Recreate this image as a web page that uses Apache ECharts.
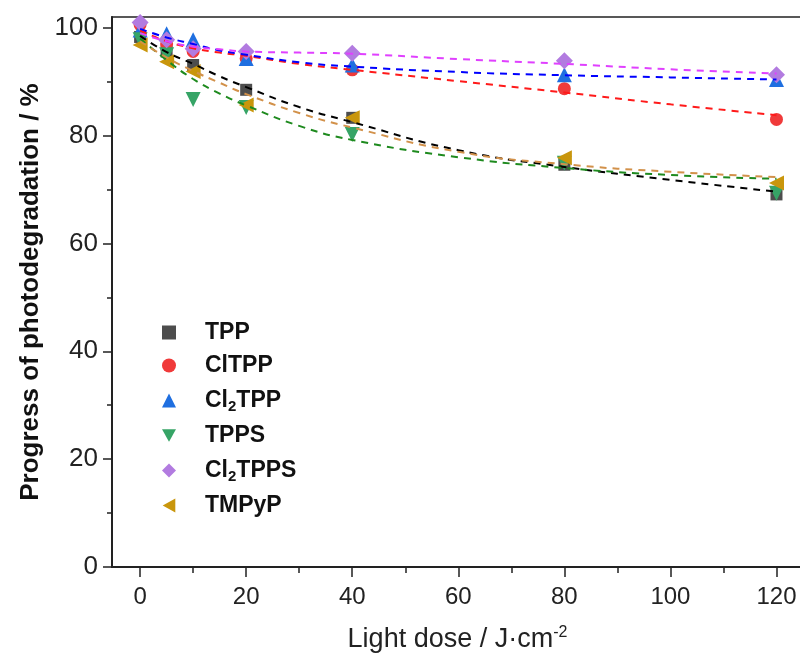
<!DOCTYPE html>
<html>
<head>
<meta charset="utf-8">
<script src="https://cdn.jsdelivr.net/npm/echarts@6/dist/echarts.min.js"></script>
<style>html,body{margin:0;padding:0;background:#fff}#c{width:800px;height:656px}</style>
</head>
<body>
<div id="c"></div>
<script>
// ---- data ----
const doses = [0, 5, 10, 20, 40, 80, 120];
const TPP     = [98.3, 95.6, 93.1, 88.5, 83.3, 74.6, 69.1];
const ClTPP   = [100.6, 97.0, 95.6, 94.3, 92.2, 88.7, 83.0];
const Cl2TPP  = [99.6, 98.9, 97.8, 94.3, 93.1, 91.3, 90.4];
const TPPS    = [97.8, 95.0, 86.7, 85.2, 80.2, 74.9, 69.3];
const Cl2TPPS = [101.0, 97.8, 96.1, 95.6, 95.3, 93.9, 91.3];
const TMPyP   = [96.8, 93.7, 91.9, 85.7, 83.3, 75.9, 71.2];

// fitted (dashed) curves
const fitX        = [0, 5, 10, 15, 20, 30, 40, 60, 80, 100, 120];
const fitTPP      = [98.5, 95.5, 93.3, 91.0, 89.0, 85.3, 82.5, 77.3, 74.2, 71.8, 69.6];
const fitClTPP    = [99.5, 97.5, 96.2, 95.4, 94.8, 93.3, 92.2, 90.1, 88.0, 85.8, 83.8];
const fitCl2TPP   = [99.8, 98.2, 97.0, 95.8, 95.0, 93.6, 92.8, 91.8, 91.2, 90.8, 90.4];
const fitTPPS     = [98.0, 94.0, 90.5, 87.8, 85.6, 81.8, 79.2, 76.0, 74.0, 72.7, 72.0];
const fitCl2TPPS  = [99.0, 97.5, 96.5, 96.0, 95.6, 95.4, 95.2, 94.2, 93.3, 92.3, 91.5];
const fitTMPyP    = [97.5, 94.5, 92.0, 89.8, 87.7, 84.2, 81.5, 77.0, 74.7, 73.3, 72.3];

const names = ['TPP', 'ClTPP', 'Cl2TPP', 'TPPS', 'Cl2TPPS', 'TMPyP'];
const legendLabels = {
  'TPP': '{b|TPP}',
  'ClTPP': '{b|ClTPP}',
  'Cl2TPP': '{b|Cl}{s|2}{b|TPP}',
  'TPPS': '{b|TPPS}',
  'Cl2TPPS': '{b|Cl}{s|2}{b|TPPS}',
  'TMPyP': '{b|TMPyP}'
};
const xMajor = [0, 20, 40, 60, 80, 100, 120];
const xMinor = [10, 30, 50, 70, 90, 110];
const yMajor = [0, 20, 40, 60, 80, 100];
const yMinor = [10, 30, 50, 70, 90];

// ---- styles ----
const styles = [
  {v: TPP, f: fitTPP, sym: 'rect', icon: 'rect', size: 12, rot: 0, c: '#4d4d4d', lc: '#000000'},
  {v: ClTPP, f: fitClTPP, sym: 'circle', icon: 'circle', size: 13, rot: 0, c: '#f03a3a', lc: '#ff1a1a'},
  {v: Cl2TPP, f: fitCl2TPP, sym: 'triangle', icon: 'triangle', size: 15, rot: 0, c: '#1f6fe0', lc: '#0000ff'},
  {v: TPPS, f: fitTPPS, sym: 'triangle', icon: 'path://M0,0L10,0L5,9Z', size: 15, rot: 180, c: '#36a466', lc: '#1e8a1e'},
  {v: Cl2TPPS, f: fitCl2TPPS, sym: 'diamond', icon: 'diamond', size: 17, rot: 0, c: '#b27be0', lc: '#e040ff'},
  {v: TMPyP, f: fitTMPyP, sym: 'triangle', icon: 'path://M9,0L9,10L0,5Z', size: 15, rot: 90, c: '#c9960c', lc: '#d2914a'}
];

const series = [];
names.forEach((n, i) => {
  const s = styles[i];
  series.push({
    name: n, type: 'scatter', xAxisIndex: 0, yAxisIndex: 0,
    symbol: s.sym, symbolSize: s.size, symbolRotate: s.rot,
    itemStyle: {color: s.c, opacity: 1},
    data: doses.map((d, k) => [d, s.v[k]]), z: 3
  });
});
names.forEach((n, i) => {
  const s = styles[i];
  series.push({
    name: n + ' fit', type: 'line', xAxisIndex: 0, yAxisIndex: 0,
    smooth: true, showSymbol: false, symbol: 'none',
    lineStyle: {color: s.lc, width: 2, type: [7, 6]},
    data: fitX.map((d, k) => [d, s.f[k]]), z: 4, silent: true
  });
});

const axisColor = '#222';
const chart = echarts.init(document.getElementById('c'), null, {renderer: 'canvas'});
chart.setOption({
  animation: false,
  backgroundColor: '#fff',
  grid: {left: 112, right: -3, top: 17, bottom: 89, outerBoundsMode: 'none', containLabel: false,
         show: true, borderColor: axisColor, borderWidth: 1.5, backgroundColor: 'transparent'},
  legend: {
    data: names.map((n, i) => ({name: n, icon: styles[i].icon, itemStyle: {color: styles[i].c}})),
    orient: 'vertical', left: 157, top: 316,
    itemWidth: 14, itemHeight: 14, itemGap: 10, symbolKeepAspect: true, symbolRotate: 0,
    formatter: n => legendLabels[n],
    textStyle: {
      padding: [0, 0, 0, 24],
      rich: {
        b: {fontFamily: 'Liberation Sans, Arial, sans-serif', fontWeight: 'bold', fontSize: 23, color: '#111', lineHeight: 24},
        s: {fontFamily: 'Liberation Sans, Arial, sans-serif', fontWeight: 'bold', fontSize: 15, color: '#111', lineHeight: 24, padding: [12, 0, 0, 0]}
      }
    }
  },
  xAxis: [{
    type: 'value', min: -5.3, max: 125, position: 'bottom',
    name: '{n|Light dose / J·cm}{sup|-2}', nameLocation: 'middle', nameGap: 58,
    nameTextStyle: {rich: {
      n: {fontFamily: 'Liberation Sans, Arial, sans-serif', fontSize: 27, color: '#222'},
      sup: {fontFamily: 'Liberation Sans, Arial, sans-serif', fontSize: 16, color: '#222', padding: [0, 0, 14, 0]}
    }},
    axisLine: {show: true, onZero: false, lineStyle: {color: axisColor, width: 2}},
    axisTick: {show: true, inside: false, length: 10, lineStyle: {color: axisColor, width: 1.5}, customValues: xMajor},
    axisLabel: {customValues: xMajor, fontFamily: 'Liberation Sans, Arial, sans-serif', fontSize: 24, color: '#222', margin: 18},
    splitLine: {show: false}
  }, {
    type: 'value', min: -5.3, max: 125, position: 'bottom',
    axisLine: {show: false, onZero: false},
    axisTick: {show: true, length: 6, lineStyle: {color: axisColor, width: 1.5}, customValues: xMinor},
    axisLabel: {show: false}, splitLine: {show: false}
  }],
  yAxis: [{
    type: 'value', min: 0, max: 102, position: 'left',
    name: 'Progress of photodegradation / %', nameLocation: 'middle', nameGap: 68, nameRotate: 90,
    nameTextStyle: {fontFamily: 'Liberation Sans, Arial, sans-serif', fontWeight: 'bold', fontSize: 26, color: '#111'},
    axisLine: {show: true, onZero: false, lineStyle: {color: axisColor, width: 2}},
    axisTick: {show: true, length: 9, lineStyle: {color: axisColor, width: 1.5}, customValues: yMajor},
    axisLabel: {customValues: yMajor, fontFamily: 'Liberation Sans, Arial, sans-serif', fontSize: 26, color: '#222', margin: 14},
    splitLine: {show: false}
  }, {
    type: 'value', min: 0, max: 102, position: 'left',
    axisLine: {show: false, onZero: false},
    axisTick: {show: true, length: 5, lineStyle: {color: axisColor, width: 1.5}, customValues: yMinor},
    axisLabel: {show: false}, splitLine: {show: false}
  }],
  series: series
});
</script>
</body>
</html>
